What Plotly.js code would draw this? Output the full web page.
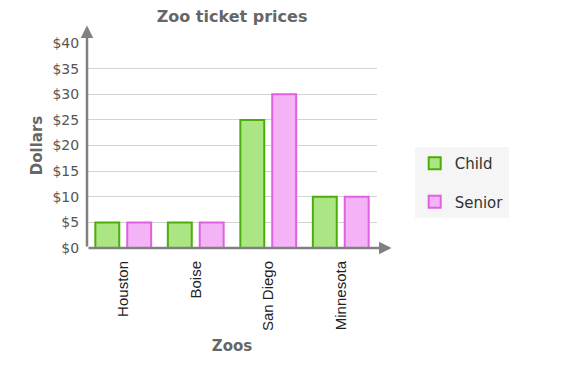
<!DOCTYPE html>
<html>
<head>
<meta charset="utf-8">
<script src="https://cdn.plot.ly/plotly-3.0.1.min.js"></script>
<style>html,body{margin:0;padding:0;background:#fff;}#chart{width:573px;height:369px;}</style>
</head>
<body>
<div id="chart"></div>
<script>
const zoos = ["Houston", "Boise", "San Diego", "Minnesota"];
const childPrices = [5, 5, 25, 10];
const seniorPrices = [5, 5, 30, 10];
const yTickVals = [0, 5, 10, 15, 20, 25, 30, 35, 40];
const yTickText = ["$0", "$5", "$10", "$15", "$20", "$25", "$30", "$35", "$40"];

const FONT = "DejaVu Sans, Verdana, sans-serif";
const ARIAL = "Liberation Sans, Arial, sans-serif";
const data = [
  {type: "bar", name: "Child", x: zoos, y: childPrices, legendgroup: "a",
   marker: {color: "#abe584", line: {color: "#4cad0a", width: 2}}, hoverinfo: "none"},
  {type: "bar", name: "Senior", x: zoos, y: seniorPrices, legendgroup: "b",
   marker: {color: "#f5b3f7", line: {color: "#e060e0", width: 2}}, hoverinfo: "none"}
];
const layout = {
  width: 573, height: 369,
  margin: {l: 87, r: 196, t: 43, b: 121},
  paper_bgcolor: "#fff", plot_bgcolor: "#fff",
  font: {family: FONT, color: "#555", size: 14},
  title: {text: "<b>Zoo ticket prices</b>", font: {family: FONT, size: 16, color: "#666"}, x: 0.405, xanchor: "center", y: 0.97, yanchor: "top"},
  barmode: "group", bargap: 0.12, bargroupgap: 0.25,
  xaxis: {
    tickangle: -90, showgrid: false, zeroline: false, showline: false, ticks: "outside", ticklen: 6, tickcolor: "rgba(0,0,0,0)",
    tickfont: {family: ARIAL, size: 15, color: "#222"},
    title: {text: "<b>Zoos</b>", font: {family: FONT, size: 15, color: "#666"}, standoff: 10}
  },
  yaxis: {
    range: [0, 40], tickvals: yTickVals, ticktext: yTickText,
    showgrid: true, gridcolor: "#d3d3d3", gridwidth: 1, zeroline: false, showline: false, ticks: "outside", ticklen: 4, tickcolor: "rgba(0,0,0,0)",
    tickfont: {family: FONT, size: 14, color: "#555"},
    title: {text: "<b>Dollars</b>", font: {family: FONT, size: 15, color: "#666"}, standoff: 6}
  },
  legend: {
    x: 1.13, y: 0.32, xanchor: "left", yanchor: "middle",
    bgcolor: "#f5f5f5", font: {family: FONT, size: 15, color: "#333"},
    traceorder: "grouped", tracegroupgap: 16,
    itemwidth: 30
  },
  annotations: [
    {xref: "paper", yref: "paper", axref: "paper", ayref: "paper", x: 0, y: 1.085, ax: 0, ay: 0,
     showarrow: true, arrowhead: 2, arrowsize: 1, arrowwidth: 2.5, arrowcolor: "#808080", text: ""},
    {xref: "paper", yref: "paper", axref: "paper", ayref: "paper", x: 1.05, y: 0, ax: 0, ay: 0,
     showarrow: true, arrowhead: 2, arrowsize: 1, arrowwidth: 2.5, arrowcolor: "#808080", text: ""}
  ]
};
Plotly.newPlot("chart", data, layout, {displayModeBar: false, staticPlot: true});
</script>
</body>
</html>
